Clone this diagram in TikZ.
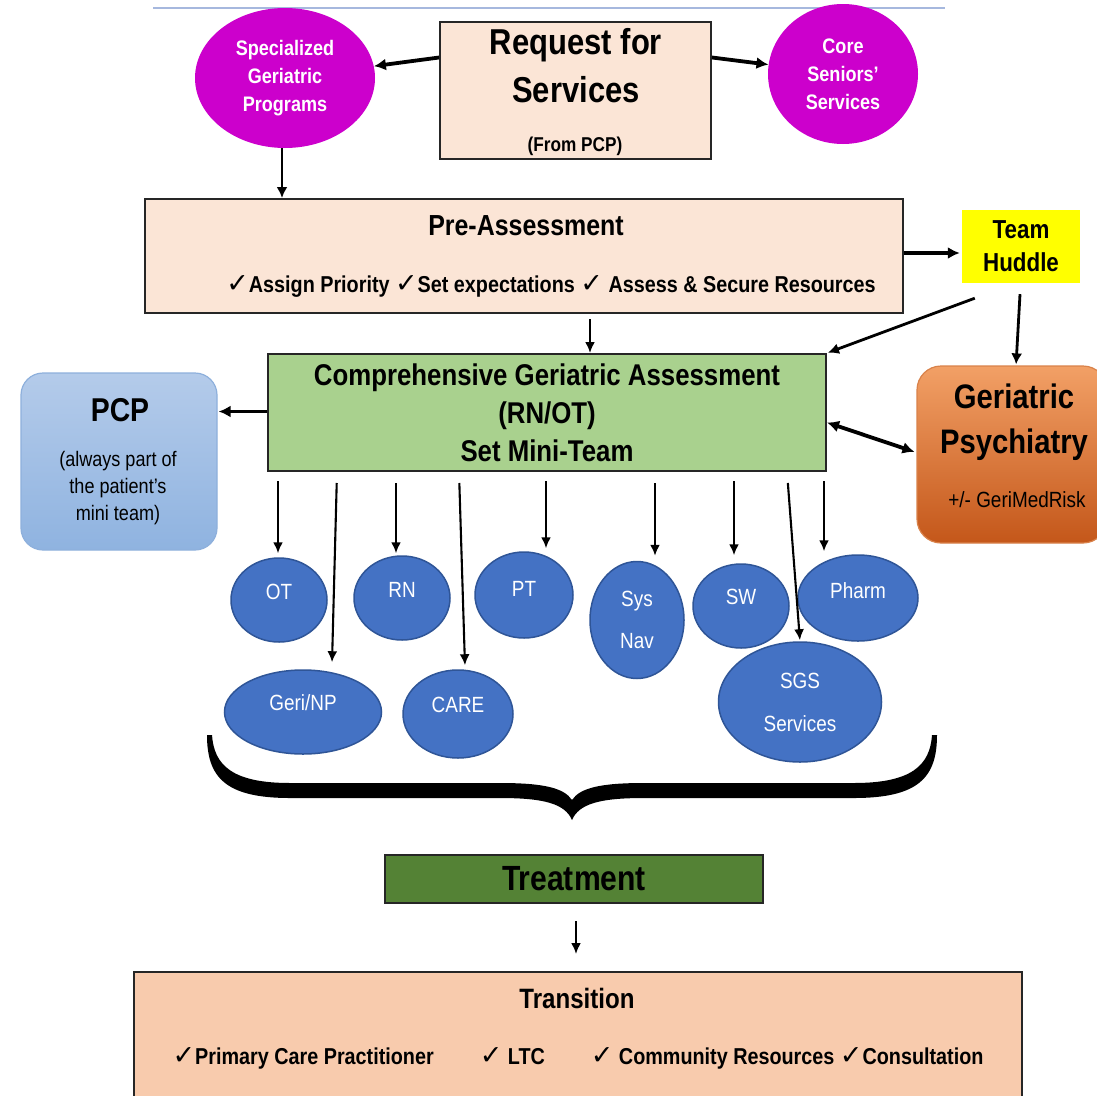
\documentclass[tikz,border=0pt]{standalone}
\usepackage{fontspec}
\setmainfont[FakeStretch=0.86]{Liberation Sans}
\newfontfamily\chk{DejaVu Sans}
\usetikzlibrary{shapes.geometric,arrows.meta}
\definecolor{magen}{HTML}{CC00CC}
\definecolor{peach}{HTML}{FBE5D6}
\definecolor{peachd}{HTML}{F8CBAD}
\definecolor{huddle}{HTML}{FFFF00}
\definecolor{cgagreen}{HTML}{A9D18E}
\definecolor{ellblue}{HTML}{4472C4}
\definecolor{ellborder}{HTML}{2F5597}
\definecolor{treatgreen}{HTML}{548235}
\definecolor{topline}{HTML}{A6B8DE}
\definecolor{boxline}{HTML}{262626}
\definecolor{pcptop}{HTML}{B4CBEA}
\definecolor{pcpbot}{HTML}{8FB3E0}
\definecolor{pcpline}{HTML}{8EB0DC}
\definecolor{gptop}{HTML}{F2A066}
\definecolor{gpbot}{HTML}{C4571A}
\definecolor{gpline}{HTML}{D9824A}
\newcommand\fs[2]{\fontsize{#1}{#2}\selectfont}
\newcommand\ck{{\chk\fontsize{27}{27}\selectfont ✓}}
\newcommand\up[1]{\raisebox{16pt}{#1}}
\tikzset{
  rectbox/.style={draw=boxline, line width=2pt, inner sep=0pt},
  magell/.style={ellipse, fill=magen, draw=none, inner sep=0pt, text=white, align=center, font=\fs{21}{28}\bfseries},
  teamell/.style={ellipse, fill=ellblue, draw=ellborder, line width=1.5pt, inner sep=0pt, text=white, align=center, font=\fs{22}{24}},
  bigarrow/.style={line width=3.8pt, -{Latex[length=12pt,width=12pt]}},
  medarrow/.style={line width=2.8pt, -{Latex[length=11pt,width=11pt]}},
  thinarrow/.style={line width=2.1pt, -{Latex[length=11pt,width=10pt]}},
}
\begin{document}
\begin{tikzpicture}[x=1pt,y=-1pt]
\useasboundingbox (0,0) rectangle (1097,1095);
\fill[white] (0,0) rectangle (1097,1095);

% top line
\draw[topline, line width=1.5pt] (153,8) -- (945,8);

% top row
\node[magell, minimum width=180pt, minimum height=140pt] (sgp) at (285,78) {Specialized\\Geriatric\\Programs};
\node[magell, minimum width=150pt, minimum height=140pt] (core) at (843,74) {Core\\Seniors’\\Services};
\node[rectbox, fill=peach, minimum width=271pt, minimum height=137pt] (req) at (575.5,90.5) {};
\node[font=\fs{36}{42}\bfseries] (reqt1) at (576,45) {Request for};
\node[font=\fs{36}{42}\bfseries] (reqt2) at (576,90) {Services};
\node[font=\fs{20}{24}\bfseries] (reqt3) at (575,146) {(From PCP)};

% pre-assessment
\node[rectbox, fill=peach, minimum width=758pt, minimum height=114pt] (pre) at (524,256) {};
\node[font=\fs{29}{34}\bfseries] (pret) at (526,226) {Pre-Assessment};
\node[font=\fs{23}{26}\bfseries] (prechk) at (551,286) {\ck Assign Priority \ck Set expectations \ck\ Assess \& Secure Resources};

\node[fill=huddle, inner sep=0pt, minimum width=118pt, minimum height=73pt, align=center, font=\fs{26}{33}\bfseries] (huddle) at (1021,246.5) {Team\\Huddle};

% CGA
\node[rectbox, fill=cgagreen, minimum width=558pt, minimum height=117pt, align=center, font=\fs{30}{38}\bfseries] (cga) at (547,412.5) {Comprehensive Geriatric Assessment\\(RN/OT)\\Set Mini-Team};

% PCP
\node[draw=pcpline, line width=1.2pt, rounded corners=22pt, top color=pcptop, bottom color=pcpbot, minimum width=196pt, minimum height=177pt, inner sep=0pt] (pcp) at (119,461.5) {};
\node[font=\fs{33}{38}\bfseries] (pcpt) at (120,410) {PCP};
\node[align=center, font=\fs{21}{27}] (pcpsub) at (118,488) {(always part of\\the patient’s\\mini team)};

% Geriatric psychiatry
\node[draw=gpline, line width=1.2pt, rounded corners=24pt, top color=gptop, bottom color=gpbot, minimum width=190pt, minimum height=177pt, inner sep=0pt] (gp) at (1012,454.5) {};
\node[align=center, font=\fs{34}{45}\bfseries] (gpt) at (1014,422) {Geriatric\\Psychiatry};
\node[font=\fs{22}{24}] (gpsub) at (1017,500) {+/- GeriMedRisk};

% team ellipses
\node[teamell, minimum width=96pt, minimum height=84pt] (ot) at (279,600) {\up{OT}};
\node[teamell, minimum width=96pt, minimum height=84pt] (rn) at (402,598) {\up{RN}};
\node[teamell, minimum width=98pt, minimum height=86pt] (pt) at (524,595) {\raisebox{12pt}{PT}};
\node[teamell, minimum width=94pt, minimum height=117pt, font=\fs{22}{42}] (sysnav) at (637,620) {Sys\\Nav};
\node[teamell, minimum width=96pt, minimum height=84pt] (sw) at (741,606) {\raisebox{18pt}{SW}};
\node[teamell, minimum width=120pt, minimum height=86pt] (pharm) at (858,598) {\raisebox{14pt}{Pharm}};
\node[teamell, minimum width=157pt, minimum height=84pt] (gnp) at (303,712) {\raisebox{18pt}{Geri/NP}};
\node[teamell, minimum width=110pt, minimum height=88pt] (care) at (458,714) {\raisebox{18pt}{CARE}};
\node[teamell, minimum width=163pt, minimum height=120pt, font=\fs{22}{43}] (sgs) at (800,702) {SGS\\Services};

% brace
\fill[black] (207,735) .. controls (207,777) and (225,798) .. (290,798) -- (500,798)
  .. controls (545,798) and (565,804) .. (572,820)
  .. controls (579,804) and (599,798) .. (644,798) -- (854,798)
  .. controls (919,798) and (937,777) .. (937,735)
  -- (932,735) .. controls (930,765) and (912,783) .. (854,783) -- (644,783)
  .. controls (600,783) and (580,788) .. (572,800)
  .. controls (564,788) and (544,783) .. (500,783) -- (290,783)
  .. controls (232,783) and (214,765) .. (212,735) -- cycle;

% treatment and transition
\node[rectbox, fill=treatgreen, minimum width=378pt, minimum height=48pt, font=\fs{35}{38}\bfseries] (treat) at (574,879) {Treatment};
\node[rectbox, fill=peachd, minimum width=888pt, minimum height=140pt] (trans) at (578,1042) {};
\node[font=\fs{28}{34}\bfseries] (transt) at (577,998) {Transition};
\node[font=\fs{23}{26}\bfseries] (transchk) at (578,1058) {\ck Primary Care Practitioner\qquad\ck\ LTC\qquad\ck\ Community Resources\ \ck Consultation};

% connectors
\draw[bigarrow] ([yshift=33pt]req.west) -- (sgp);
\draw[bigarrow] ([yshift=33pt]req.east) -- (core);
\draw[medarrow] ([xshift=-3pt]sgp.south) -- ([xshift=-3pt]sgp.south |- pre.north);
\draw[bigarrow, shorten >=2pt] ([yshift=3pt]pre.east) -- ([yshift=3pt]pre.east -| huddle.west);
\draw[thinarrow, shorten <=5pt] ([xshift=66pt]pre.south) -- ([xshift=66pt]pre.south |- cga.north);
\draw[medarrow, shorten >=1pt] ([xshift=13pt,yshift=-15pt]huddle.south west) -- (cga.north east);
\draw[medarrow, shorten >=1pt] ([xshift=-1pt,yshift=-11pt]huddle.south) -- ([xshift=4pt]gp.north);
\draw[bigarrow, shorten >=1pt] ([yshift=1pt]cga.west) -- ([yshift=1pt]cga.west -| pcp.east);
\draw[line width=3.8pt, {Latex[length=12pt,width=12pt]}-{Latex[length=12pt,width=12pt]}, shorten >=2pt] ([yshift=-10pt]cga.east) -- ([yshift=2pt]gp.west);

\draw[thinarrow, shorten <=9pt, shorten >=4pt] ([xshift=11pt]cga.south west) -- ([xshift=11pt]cga.south west |- ot.north);
\draw[thinarrow, shorten <=11pt, shorten >=1pt] ([xshift=70pt]cga.south west) -- ([xshift=29pt,yshift=6pt]gnp.north);
\draw[thinarrow, shorten <=11pt, shorten >=2pt] ([xshift=129pt]cga.south west) -- ([xshift=129pt]cga.south west |- rn.north);
\draw[thinarrow, shorten <=11pt, shorten >=1pt] ([xshift=192pt]cga.south west) -- ([xshift=7pt,yshift=3pt]care.north);
\draw[thinarrow, shorten <=9pt, shorten >=3pt] ([xshift=279pt]cga.south west) -- ([xshift=279pt]cga.south west |- pt.north);
\draw[thinarrow, shorten <=11pt, shorten >=5pt] ([xshift=388pt]cga.south west) -- ([xshift=388pt]cga.south west |- sysnav.north);
\draw[thinarrow, shorten <=9pt, shorten >=8pt] ([xshift=467pt]cga.south west) -- ([xshift=467pt]cga.south west |- sw.north);
\draw[thinarrow, shorten <=11pt, shorten >=1pt] ([xshift=520pt]cga.south west) -- (sgs.north);
\draw[thinarrow, shorten <=9pt, shorten >=3pt] ([xshift=557pt]cga.south west) -- ([xshift=557pt]cga.south west |- pharm.north);

\draw[thinarrow, shorten <=17pt, shorten >=17pt] ([xshift=2pt]treat.south) -- ([xshift=2pt]treat.south |- trans.north);
\end{tikzpicture}
\end{document}
